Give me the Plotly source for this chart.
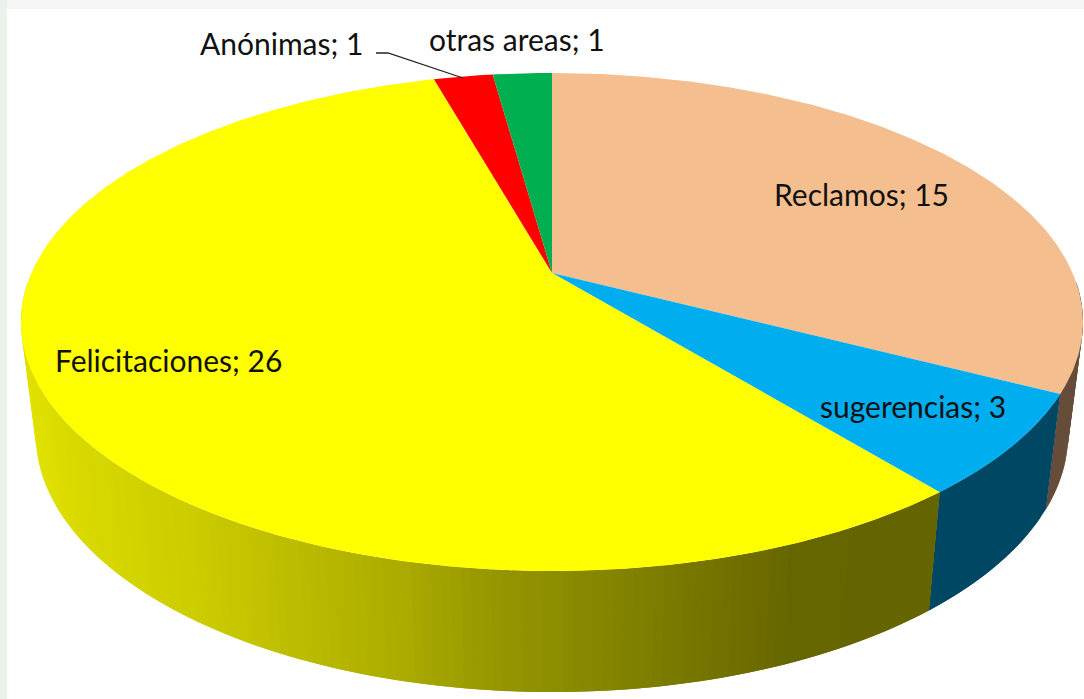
import numpy as np
import plotly.graph_objects as go

categories = ["Reclamos", "sugerencias", "Felicitaciones", "Anónimas", "otras areas"]
values = [15, 3, 26, 1, 1]
top_colors = ["#F5BE8E", "#00AEEF", "#FFFF00", "#FF0000", "#00B050"]
side_colors = ["#664D3A", "#004763", None, None, None]
# x position -> brightness of the yellow wall
wall_x = [20, 60, 200, 400, 500, 600, 700, 800, 1000]
wall_b = [226, 219, 203, 172, 150, 135, 118, 102, 100]
# label: left edge x, centre y
label_x = [772, 818, 53, 198, 427]
label_y = [194, 406, 360, 43, 39]

W, H = 1084, 699
CX, CY, R, A, K = 552, 273, 520.6, 239.4, 0.1968


def top(theta):
    t = np.radians(theta)
    u, v = np.sin(t), np.cos(t)
    d = 1 + K * v
    return CX + R * u / d, CY - A * v / d


def bottom(theta):
    x, y = top(theta)
    return CX + (x - CX) * 0.972, y + 115 + 0.034 * (y - 395)


fig = go.Figure()


def poly(x, y, color):
    fig.add_trace(go.Scatter(
        x=list(x), y=list(y), mode="lines", fill="toself", fillcolor=color,
        line=dict(color=color, width=0), hoverinfo="skip", showlegend=False))


total = sum(values)
edges = np.concatenate([[0], np.cumsum(values)]) * 360 / total


def wall(a, b, color_fn, n):
    # every strip overlaps the next one so no seams appear between them
    th = np.linspace(a, b, n + 1)
    for i in range(n):
        arc = np.linspace(th[i], th[min(i + 2, n)], 5)
        xt, yt = top(arc)
        xb, yb = bottom(arc[::-1])
        poly(np.r_[xt, xb, xt[0]], np.r_[yt, yb, yt[0]], color_fn((xt[0] + xt[-1]) / 2))


def yellow(x):
    b = int(round(float(np.interp(x, wall_x, wall_b))))
    return f"rgb({b},{b},0)"


wall(92, edges[1], lambda x: side_colors[0], 30)
wall(edges[1], edges[2], lambda x: side_colors[1], 12)
wall(268, edges[2], yellow, 140)

# top faces
for i, c in enumerate(top_colors):
    th = np.linspace(edges[i], edges[i + 1], max(int(edges[i + 1] - edges[i]) * 2, 8))
    x, y = top(th)
    poly(np.r_[CX, x, CX], np.r_[CY, y, CY], c)

# leader line of the "Anónimas" label
fig.add_trace(go.Scatter(x=[376, 388, 463], y=[53, 53, 78], mode="lines",
                         line=dict(color="#222222", width=1.3), hoverinfo="skip", showlegend=False))

for c, v, x, y in zip(categories, values, label_x, label_y):
    fig.add_annotation(x=x, y=y, text=f"{c}; {v}", showarrow=False, xanchor="left", yanchor="middle",
                       font=dict(family="Lato", size=30, color="#111111"), xref="x", yref="y")

fig.update_layout(
    width=W, height=H, margin=dict(l=0, r=0, t=0, b=0), paper_bgcolor="white", plot_bgcolor="white",
    xaxis=dict(range=[0, W], visible=False, fixedrange=True),
    yaxis=dict(range=[H, 0], visible=False, fixedrange=True),
    shapes=[
        dict(type="rect", xref="x", yref="y", x0=0, x1=W, y0=0, y1=9, fillcolor="#F6F7F5", line_width=0, layer="below"),
        dict(type="rect", xref="x", yref="y", x0=0, x1=7, y0=0, y1=H, fillcolor="#EDF1EC", line_width=0, layer="below"),
    ],
)
fig.write_html("out.html", config={"displayModeBar": False},
               post_script="document.body.style.margin='0';document.body.style.overflow='hidden';")
